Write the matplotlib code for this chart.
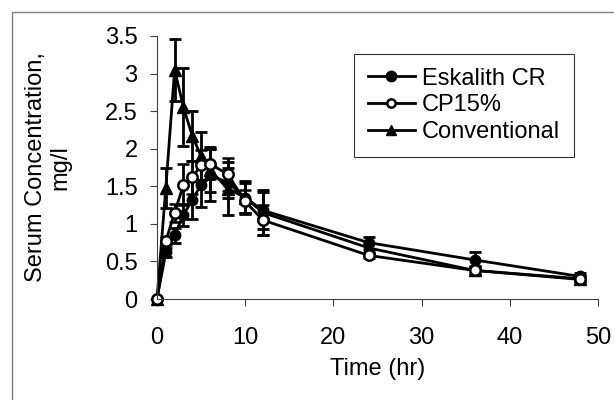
import matplotlib
matplotlib.use("Agg")
import matplotlib.pyplot as plt
from matplotlib.patches import Rectangle
from matplotlib.lines import Line2D

time_hr = [0, 1, 2, 3, 4, 5, 6, 8, 10, 12, 24, 36, 48]
eskalith = [0, 0.62, 0.85, 1.12, 1.32, 1.52, 1.65, 1.55, 1.35, 1.18, 0.75, 0.52, 0.30]
eskalith_err = [0, 0.06, 0.10, 0.15, 0.25, 0.30, 0.35, 0.20, 0.20, 0.25, 0.08, 0.10, 0.05]
cp15 = [0, 0.77, 1.15, 1.52, 1.62, 1.78, 1.80, 1.66, 1.30, 1.05, 0.58, 0.38, 0.27]
cp15_err = [0, 0.05, 0.12, 0.27, 0.22, 0.20, 0.20, 0.22, 0.15, 0.20, 0.04, 0.04, 0.04]
conventional = [0, 1.48, 3.05, 2.55, 2.17, 1.90, 1.72, 1.47, 1.35, 1.15, 0.68, 0.38, 0.26]
conventional_err = [0, 0.27, 0.41, 0.52, 0.33, 0.32, 0.30, 0.35, 0.22, 0.30, 0.07, 0.06, 0.05]

x_ticks = [0, 10, 20, 30, 40, 50]
y_ticks = [0, 0.5, 1, 1.5, 2, 2.5, 3, 3.5]
y_tick_labels = ["0", "0.5", "1", "1.5", "2", "2.5", "3", "3.5"]

plt.rcParams['font.family'] = ['Liberation Sans', 'DejaVu Sans']
FS = 17

fig = plt.figure(figsize=(6.14, 4.0), dpi=100)
fig.patches.append(Rectangle((12 / 614, -0.1), 1.2, (400 - 12) / 400 + 0.1,
                             transform=fig.transFigure, fill=False,
                             edgecolor='#808080', linewidth=1.0))
ax = fig.add_axes([157 / 614, 1 - 299 / 400, (598 - 157) / 614, (299 - 36) / 400])

common = dict(color='black', linewidth=2.0, elinewidth=2.0, capsize=4, capthick=2.0,
              clip_on=False)
ax.errorbar(time_hr, conventional, yerr=conventional_err, marker='^', markersize=8,
            markerfacecolor='black', markeredgecolor='black', **common)
ax.errorbar(time_hr, eskalith, yerr=eskalith_err, marker='o', markersize=7.5,
            markerfacecolor='black', markeredgecolor='black', **common)
ax.errorbar(time_hr, cp15, yerr=cp15_err, marker='o', markersize=7.5,
            markerfacecolor='white', markeredgecolor='black', markeredgewidth=1.8,
            **common)

ax.set_xlim(0, 50)
ax.set_ylim(0, 3.5)
ax.set_xticks(x_ticks)
ax.set_yticks(y_ticks)
ax.set_yticklabels(y_tick_labels)
for s in ['top', 'right']:
    ax.spines[s].set_visible(False)
for s in ['left', 'bottom']:
    ax.spines[s].set_linewidth(0.8)
    ax.spines[s].set_color('#404040')
ax.tick_params(axis='both', direction='out', length=5, width=0.8, color='#404040',
               labelsize=FS)
ax.tick_params(axis='y', pad=9)
ax.tick_params(axis='x', pad=15)
ax.set_xlabel('Time (hr)', fontsize=FS, labelpad=7)
ax.set_ylabel('Serum Concentration,\nmg/l', fontsize=FS, labelpad=24, linespacing=1.15)

handles = [
    Line2D([], [], color='black', linewidth=2.0, marker='o', markersize=7.5,
           markerfacecolor='black', markeredgecolor='black'),
    Line2D([], [], color='black', linewidth=2.0, marker='o', markersize=6,
           markerfacecolor='white', markeredgecolor='black', markeredgewidth=1.8),
    Line2D([], [], color='black', linewidth=2.0, marker='^', markersize=7,
           markerfacecolor='black', markeredgecolor='black'),
]
labels = ['Eskalith CR', 'CP15%', 'Conventional']
leg = ax.legend(handles, labels,
                loc='upper left', bbox_to_anchor=((354 - 157) / 441, 1 - (54 - 36) / 263),
                fontsize=FS, frameon=True, fancybox=False, edgecolor='black',
                handlelength=2.0, handletextpad=0.3, borderpad=0.58, labelspacing=0.2,
                borderaxespad=0)
leg.get_frame().set_linewidth(0.8)

fig.savefig('out.png', dpi=100)
